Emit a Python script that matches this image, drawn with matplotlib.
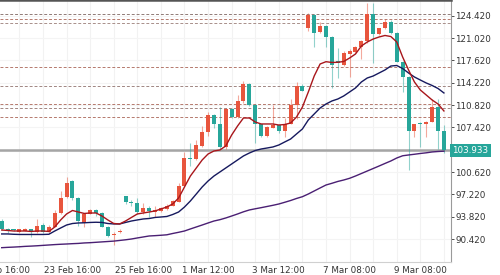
import matplotlib
matplotlib.use('Agg')
import matplotlib.pyplot as plt
from matplotlib.transforms import blended_transform_factory

# ---- data ----
opens = [93.17, 91.91, 91.82, 91.45, 91.70, 91.95, 91.50, 92.60, 91.50, 92.30,
         94.40, 96.90, 99.30, 96.60, 92.90, 94.30, 94.85, 94.35, 92.30, 91.00,
         91.50, 96.90, 96.10, 95.90, 94.50, 95.20, 94.60, 94.75, 95.00, 95.50,
         96.10, 98.50, 102.80, 102.60, 104.60, 106.70, 109.30, 108.00, 104.40, 110.20,
         109.00, 111.40, 114.00, 110.90, 107.90, 106.10, 107.40, 107.80, 106.80, 108.00,
         110.90, 113.70, 122.50, 124.50, 121.90, 122.90, 121.20, 117.45, 116.90, 118.60,
         118.90, 119.60, 120.50, 124.70, 121.60, 122.50, 123.50, 121.80, 117.40, 115.10,
         106.90, 107.95, 107.90, 108.30, 110.50, 106.90]
highs = [93.47, 92.11, 92.00, 92.00, 92.05, 92.00, 93.45, 92.80, 92.60, 94.90,
         97.80, 99.80, 99.40, 96.80, 94.40, 95.00, 95.00, 94.50, 92.40, 91.50,
         92.00, 97.00, 96.30, 96.60, 95.90, 95.40, 95.45, 95.30, 95.70, 96.40,
         98.90, 103.70, 105.10, 105.50, 107.70, 109.80, 109.50, 110.50, 110.40, 110.40,
         112.30, 114.50, 114.20, 111.00, 108.00, 107.70, 110.80, 107.90, 108.85, 111.70,
         114.40, 114.10, 124.80, 124.70, 123.40, 123.00, 121.30, 119.50, 119.00, 119.30,
         119.80, 120.70, 126.40, 126.40, 122.60, 123.90, 123.70, 121.90, 117.50, 115.20,
         108.00, 108.30, 108.40, 111.70, 111.70, 107.80]
lows = [91.80, 91.39, 91.60, 91.40, 91.60, 90.70, 91.35, 91.40, 91.40, 92.20,
        94.30, 96.70, 96.30, 92.40, 92.30, 94.20, 94.00, 92.20, 90.70, 89.50,
        91.30, 95.80, 95.40, 94.30, 94.20, 93.80, 93.80, 94.60, 94.90, 95.40,
        96.00, 98.30, 101.50, 102.40, 104.40, 106.10, 107.30, 104.20, 104.20, 108.80,
        108.80, 111.20, 110.70, 105.00, 105.90, 106.00, 107.30, 106.60, 106.00, 107.90,
        108.65, 112.90, 122.10, 119.70, 121.80, 119.70, 113.40, 114.90, 116.80, 115.10,
        118.80, 117.90, 120.30, 117.20, 121.50, 122.40, 121.60, 117.30, 112.85, 100.90,
        106.00, 104.50, 106.00, 108.20, 104.20, 103.50]
closes = [91.96, 91.61, 91.78, 91.91, 91.95, 91.50, 92.45, 91.50, 92.30, 94.40,
          96.70, 98.90, 96.60, 93.10, 94.20, 94.80, 94.35, 92.30, 90.90, 91.20,
          91.70, 96.00, 95.90, 94.50, 95.20, 94.75, 94.80, 95.10, 95.50, 96.20,
          98.50, 102.70, 102.60, 104.75, 106.70, 109.30, 108.00, 104.40, 110.20, 109.00,
          111.40, 114.00, 110.90, 107.90, 106.10, 107.50, 107.80, 106.80, 108.00, 110.90,
          113.70, 113.00, 124.50, 121.80, 122.90, 121.20, 116.90, 117.25, 118.70, 119.10,
          119.60, 120.50, 124.70, 121.60, 122.50, 123.50, 121.80, 117.40, 115.10, 106.90,
          107.90, 107.90, 108.30, 110.50, 106.90, 103.93]

ma_fast = [91.80, 91.73, 91.65, 91.65, 91.65, 91.58, 91.65, 91.65, 91.58, 92.26,
           93.33, 94.24, 94.77, 94.54, 94.32, 94.39, 94.39, 93.93, 93.33, 92.79,
           92.72, 93.17, 93.71, 94.24, 94.39, 94.54, 94.70, 95.00, 95.30, 95.76,
           96.67, 98.35, 100.02, 101.24, 102.46, 103.37, 103.83, 103.98, 104.59, 106.26,
           107.63, 108.85, 108.85, 108.24, 107.94, 107.94, 107.94, 107.78, 107.86, 108.09,
           109.00, 110.52, 112.81, 115.24, 117.07, 117.42, 117.30, 117.33, 117.45, 117.98,
           118.59, 119.81, 120.42, 120.87, 121.18, 121.41, 121.25, 120.42, 118.13, 116.16,
           114.33, 113.11, 112.35, 111.59, 110.98, 109.92]
ma_mid = [91.20, 91.20, 91.15, 91.12, 91.12, 91.12, 91.12, 91.12, 91.15, 91.65,
          92.11, 92.56, 92.79, 92.87, 92.90, 92.95, 92.98, 92.95, 92.79, 92.72,
          92.72, 92.95, 93.17, 93.33, 93.48, 93.55, 93.71, 93.78, 93.86, 94.16,
          94.54, 95.30, 96.22, 97.28, 98.35, 99.26, 100.02, 100.63, 101.24, 101.85,
          102.46, 103.07, 103.52, 103.90, 104.13, 104.28, 104.44, 104.74, 105.20, 105.65,
          106.42, 107.18, 108.55, 109.46, 110.37, 110.98, 111.44, 111.74, 112.20, 112.81,
          113.42, 114.33, 114.94, 115.24, 115.70, 116.16, 116.76, 116.84, 116.38, 115.70,
          115.09, 114.63, 114.18, 113.80, 113.34, 112.66]
ma_slow = [89.11, 89.16, 89.20, 89.25, 89.31, 89.35, 89.40, 89.46, 89.52, 89.58,
           89.63, 89.67, 89.72, 89.76, 89.83, 89.87, 89.93, 89.99, 90.05, 90.11,
           90.21, 90.31, 90.43, 90.59, 90.74, 90.89, 90.94, 91.00, 91.07, 91.27,
           91.45, 91.65, 91.96, 92.26, 92.56, 92.87, 93.17, 93.37, 93.63, 93.93,
           94.24, 94.57, 94.85, 95.03, 95.20, 95.38, 95.56, 95.76, 96.02, 96.29,
           96.60, 96.87, 97.28, 97.74, 98.20, 98.65, 98.91, 99.19, 99.41, 99.67,
           100.02, 100.40, 100.78, 101.16, 101.54, 101.93, 102.31, 102.76, 103.10, 103.22,
           103.33, 103.45, 103.55, 103.68, 103.75, 103.80]

levels = [124.73, 123.87, 123.35, 116.57, 113.72, 110.98, 110.42, 109.05]
last_price = 103.933
y_ticks = [90.42, 93.82, 97.22, 100.62, 107.42, 110.82, 114.22, 117.62, 121.02, 124.42]
x_tick_pos = [0, 12, 24, 35, 47, 59, 71]
x_tick_labels = ['21 Feb 16:00', '23 Feb 16:00', '25 Feb 16:00', '1 Mar 12:00',
                 '3 Mar 12:00', '7 Mar 08:00', '9 Mar 08:00']

# ---- styling ----
UP = '#e8553d'
DOWN = '#27a69a'
plt.rcParams['font.family'] = ['DejaVu Sans']

fig = plt.figure(figsize=(5, 2.75), dpi=100)
ax = fig.add_axes([0, 1 - 262 / 275, 451 / 500, 262 / 275])
ax.set_facecolor('white')

n = len(closes)
xs = list(range(n))

# grid
for gx in range(3, n + 2, 4):
    ax.axvline(gx, color='#f2f2f2', lw=0.8, zorder=0)
for gy in y_ticks + [103.82]:
    ax.axhline(gy, color='#f4f4f4', lw=0.8, zorder=0)

# dashed levels
level_colors = ['#8f7a76', '#b5796d', '#a88f8a', '#b5796d',
                '#a08682', '#b5796d', '#a08682', '#b5796d']
for lv, lc in zip(levels, level_colors):
    ax.axhline(lv, color=lc, lw=0.7, ls=(0, (3, 2)), zorder=1)

# current price line
ax.axhline(last_price, color='#a5a5a5', lw=1.8, zorder=2)

# candles
for i in xs:
    o, h, l, c = opens[i], highs[i], lows[i], closes[i]
    col = UP if c >= o else DOWN
    ax.vlines(i, l, h, color=col, lw=0.8, alpha=0.5, zorder=3)
    bot = min(o, c)
    ht = max(abs(c - o), 0.12)
    ax.bar(i, ht, bottom=bot, width=0.68, color=col, edgecolor='none', zorder=4)

# moving averages
ax.plot(xs, ma_slow, color='#4a1f73', lw=1.0, zorder=5)
ax.plot(xs, ma_mid, color='#16195e', lw=1.0, zorder=5)
ax.plot(xs, ma_fast, color='#a8161b', lw=1.0, zorder=5)

ax.set_xlim(-0.29, 76.2)
ax.set_ylim(86.93, 126.81)

# axes
ax.yaxis.tick_right()
ax.set_yticks(y_ticks)
ax.set_yticklabels([f'{v:.3f}' for v in y_ticks])
ax.set_xticks(x_tick_pos)
ax.set_xticklabels(x_tick_labels)
ax.tick_params(axis='y', length=2, width=0.6, pad=1, labelsize=6.3,
               colors='#333333', direction='out')
ax.tick_params(axis='x', length=0, pad=3, labelsize=6.3, colors='#333333')
ax.spines['left'].set_visible(False)
ax.spines['top'].set_color('#555555')
ax.spines['top'].set_linewidth(1.8)
ax.spines['right'].set_color('#9a9a9a')
ax.spines['right'].set_linewidth(0.8)
ax.spines['bottom'].set_color('#d0d0d0')
ax.spines['bottom'].set_linewidth(0.8)

# price tag
tr = blended_transform_factory(ax.transAxes, ax.transData)
ax.text(1.003, last_price, f'{last_price:.3f}', transform=tr, ha='left', va='center',
        fontsize=6.3, color='white', clip_on=False, zorder=10,
        bbox=dict(boxstyle='square,pad=0.25', fc='#26a69a', ec='none'))

fig.savefig('out.png', dpi=100, facecolor='white')
